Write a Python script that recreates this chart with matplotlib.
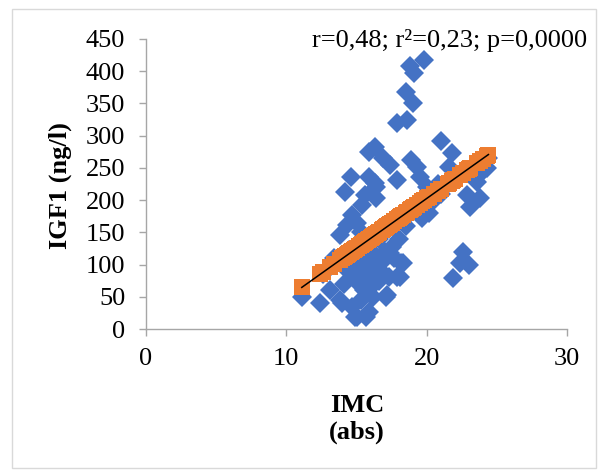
import numpy as np
import matplotlib
matplotlib.use("Agg")
from matplotlib import pyplot as plt
from matplotlib.patches import Rectangle

plt.rcParams["font.family"] = ["Liberation Serif", "DejaVu Serif"]

# IMC (abs) vs IGF1 (ng/l)
imc = [
    18.8, 19.8, 19.1, 18.5, 19.0, 17.9, 18.6, 21.0, 16.3, 15.9,
    21.8, 16.9, 17.4, 18.9, 19.3, 14.6, 15.9, 16.3, 17.9, 19.5,
    21.6, 24.3, 24.0, 23.6, 22.9, 23.8, 23.1, 20.2, 19.7, 14.3,
    13.8, 14.7, 15.4, 15.6, 16.4, 16.4, 14.2, 15.0, 15.3, 11.1,
    12.4, 13.1, 13.8, 14.0, 14.7, 15.0, 15.9, 14.9, 15.7, 14.2,
    14.5, 14.4, 14.8, 15.0, 15.2, 15.4, 15.5, 15.6, 15.8, 16.0,
    16.1, 16.2, 16.3, 16.5, 16.6, 16.8, 17.0, 17.2, 17.1, 17.4,
    17.5, 18.3, 18.2, 18.1, 17.9, 16.9, 17.3, 18.0, 18.5, 22.6,
    22.4, 23.0, 21.9, 20.5, 21.0, 21.5, 22.0, 20.0, 19.3, 18.6,
    12.6, 13.4, 24.4, 19.8, 20.8, 16.6, 15.3, 14.1, 17.7, 16.0,
]
igf1 = [
    408, 417, 397, 368, 351, 320, 324, 292, 282, 275,
    273, 265, 255, 262, 251, 236, 236, 226, 231, 236,
    251, 250, 245, 228, 208, 203, 189, 180, 172, 161,
    146, 177, 192, 208, 203, 220, 212, 165, 150, 50,
    40, 61, 45, 40, 34, 19, 26, 19, 19, 107,
    122, 90, 80, 95, 70, 110, 60, 85, 130, 100,
    70, 50, 115, 90, 140, 88, 120, 53, 50, 118,
    127, 102, 102, 81, 81, 105, 80, 140, 160, 119,
    103, 100, 79, 200, 210, 230, 235, 220, 185, 175,
    85, 110, 265, 205, 225, 75, 45, 70, 110, 65,
]

# linear trendline as drawn on the reference (from ~65 at 11.1 to ~270 at 24.4)
trend_intercept = -107.5
trend_slope = 15.5

xticks = [0, 10, 20, 30]
yticks = list(range(0, 451, 50))
stats_label = "r=0,48; r²=0,23; p=0,0000"

fig = plt.figure(figsize=(5.98, 4.72), dpi=100)
ax = fig.add_axes([146 / 598, 143 / 472, 421 / 598, 290 / 472])

ax.plot(imc, igf1, "D", color="#4472C4", ms=10, mew=0, clip_on=False)

x = np.array(imc)
ax.plot(x, trend_intercept + trend_slope * x, "s", color="#ED7D31", ms=12, mew=0, clip_on=False)
xs = np.array([x.min(), x.max()])
ax.plot(xs, trend_intercept + trend_slope * xs, color="black", lw=1.1)

ax.set_xlim(0, 30)
ax.set_ylim(0, 450)
ax.set_xticks(xticks)
ax.set_yticks(yticks)
for side in ["top", "right"]:
    ax.spines[side].set_visible(False)
for side in ["left", "bottom"]:
    ax.spines[side].set_color("#A6A6A6")
    ax.spines[side].set_linewidth(1.0)
ax.tick_params(direction="out", length=5, width=1, color="#A6A6A6", labelsize=19)
ax.tick_params(axis="y", pad=10)
ax.tick_params(axis="x", pad=9)

fig.text(60 / 598, 1 - 186 / 472, "IGF1 (ng/l)", rotation=90, ha="center", va="center",
         fontsize=19, fontweight="bold")
fig.text(357 / 598, 1 - 419 / 472, "IMC\n(abs)", ha="center", va="center",
         fontsize=19, fontweight="bold", linespacing=1.15)
fig.text(587 / 598, 1 - 40 / 472, stats_label, ha="right", va="center", fontsize=19)

fig.patches.append(Rectangle((12 / 598, 4 / 472), 584 / 598, 459 / 472, transform=fig.transFigure,
                             fill=False, edgecolor="#D9D9D9", lw=1))

fig.savefig("out.png", dpi=100)
